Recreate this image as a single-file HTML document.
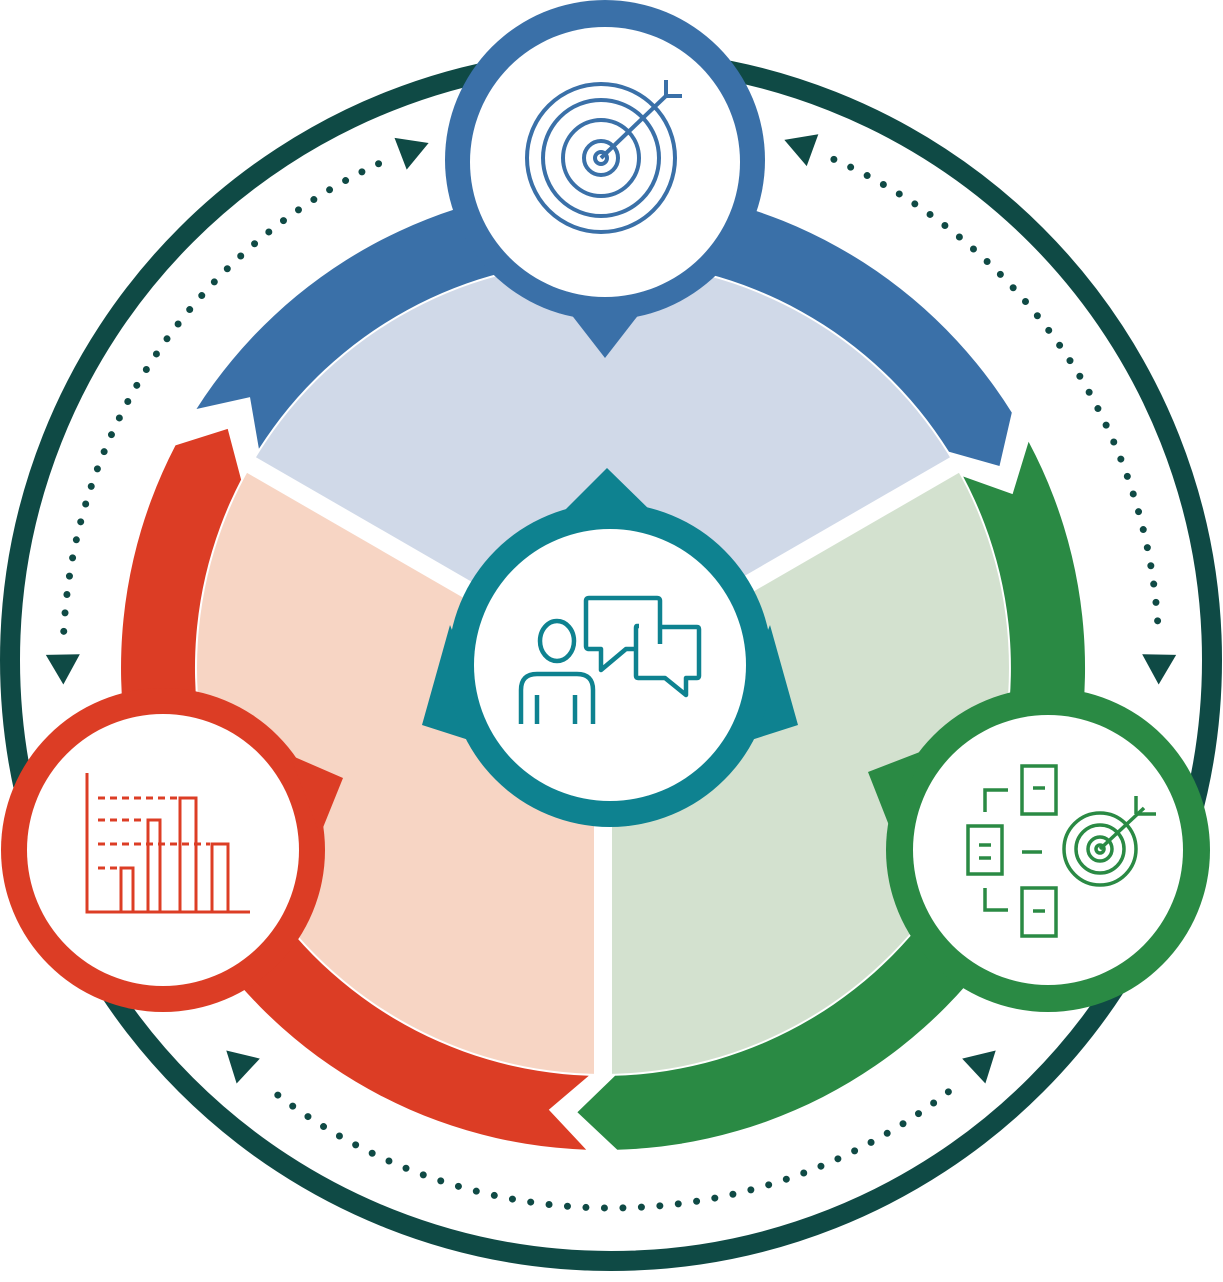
<!DOCTYPE html>
<html><head><meta charset="utf-8"><style>html,body{margin:0;padding:0;background:#fff}svg{display:block}</style></head>
<body>
<svg id="s" width="1223" height="1282" viewBox="0 0 1223 1282" xmlns="http://www.w3.org/2000/svg">
<circle cx="611" cy="660" r="601" fill="none" stroke="#0f4a45" stroke-width="20"/>
<g id="g"></g>
<!-- top node -->
<g>
<circle cx="605" cy="160" r="160" fill="#3a70a8"/>
<polygon points="560,300 650,300 605,358" fill="#3a70a8"/>
<circle cx="605" cy="162" r="135" fill="#fff"/>
<g fill="none" stroke="#3a70a8" stroke-width="4">
<circle cx="601" cy="158" r="74"/><circle cx="601" cy="158" r="58"/><circle cx="601" cy="158" r="38"/><circle cx="601" cy="158" r="17"/><circle cx="601" cy="158" r="6"/>
<line x1="601" y1="158" x2="668" y2="94"/><line x1="666" y1="96" x2="666" y2="80"/><line x1="666" y1="96" x2="682" y2="96"/>
</g></g>
<!-- left node -->
<g>
<circle cx="163" cy="850" r="162" fill="#dc3d25"/>
<polygon points="290,755 343,778 320,835" fill="#dc3d25"/>
<circle cx="163" cy="850" r="136" fill="#fff"/>
<g fill="none" stroke="#dc3d25" stroke-width="3">
<polyline points="87,773 87,912 250,912"/>
<rect x="121" y="868" width="12" height="44"/><rect x="148" y="820" width="12" height="92"/><rect x="180" y="798" width="16" height="114"/><rect x="212" y="844" width="16" height="68"/>
<g stroke-dasharray="7 5"><line x1="98" y1="798" x2="178" y2="798"/><line x1="98" y1="820" x2="146" y2="820"/><line x1="98" y1="844" x2="210" y2="844"/><line x1="98" y1="868" x2="119" y2="868"/></g>
</g></g>
<!-- right node -->
<g>
<circle cx="1048" cy="850" r="162" fill="#2a8a44"/>
<polygon points="868,772 925,750 890,828" fill="#2a8a44"/>
<circle cx="1048" cy="850" r="135" fill="#fff"/>
<g fill="none" stroke="#2a8a44" stroke-width="3.5">
<rect x="1022" y="766" width="34" height="48"/><rect x="968" y="826" width="34" height="48"/><rect x="1022" y="888" width="34" height="48"/>
<line x1="1033" y1="788" x2="1045" y2="788"/><line x1="979" y1="845" x2="991" y2="845"/><line x1="979" y1="858" x2="991" y2="858"/><line x1="1033" y1="911" x2="1045" y2="911"/>
<polyline points="985,812 985,790 1008,790"/><polyline points="985,888 985,910 1008,910"/><line x1="1022" y1="852" x2="1042" y2="852"/>
<circle cx="1100" cy="849" r="36"/><circle cx="1100" cy="849" r="24"/><circle cx="1100" cy="849" r="12"/><circle cx="1100" cy="849" r="4"/>
<line x1="1100" y1="849" x2="1144" y2="808"/><line x1="1136" y1="796" x2="1136" y2="814"/><line x1="1136" y1="814" x2="1156" y2="814"/>
</g></g>
<!-- center -->
<g>
<polygon points="607,468 560,515 655,515" fill="#0e8290"/>
<polygon points="422,725 450,625 500,750" fill="#0e8290"/>
<polygon points="798,725 770,625 720,750" fill="#0e8290"/>
<circle cx="610" cy="665" r="162" fill="#0e8290"/>
<circle cx="610" cy="665" r="136" fill="#fff"/>
<g fill="none" stroke="#0e8290" stroke-width="4.5" stroke-linejoin="round">
<ellipse cx="557" cy="641" rx="17" ry="20"/>
<path d="M521,724 V690 Q521,674 537,674 H577 Q593,674 593,690 V724"/>
<line x1="537" y1="695" x2="537" y2="724"/><line x1="575" y1="695" x2="575" y2="724"/>
<path d="M639,626 H637 Q636,626 636,628 V676 Q636,678 638,678 H665 L686,695 V678 H697 Q699,678 699,676 V629 Q699,627 697,627 H662"/>
<path d="M660,644 V601 Q660,598 657,598 H589 Q586,598 586,601 V646 Q586,649 589,649 H601 V670 L626,649 H636"/>
</g></g>
</svg>
<script>
const NS="http://www.w3.org/2000/svg",g=document.getElementById('g');
const cx=603,cy=668,R=482,r=408,rm=445;
const P=(rad,a)=>{a*=Math.PI/180;return [(cx+rad*Math.cos(a)).toFixed(1),(cy+rad*Math.sin(a)).toFixed(1)]};
function add(tag,attrs){const e=document.createElementNS(NS,tag);for(const k in attrs)e.setAttribute(k,attrs[k]);g.appendChild(e);return e;}
function sector(a1,a2,fill){const p1=P(406,a1),p2=P(406,a2);add('path',{d:`M${cx},${cy} L${p1} A406,406 0 0 1 ${p2} Z`,fill});}
sector(-150,-30,'#d0d9e8');sector(-30,90,'#d3e1cf');sector(90,210,'#f7d5c4');
[-150,-30,90].forEach(a=>{const p=P(420,a);add('line',{x1:cx,y1:cy,x2:p[0],y2:p[1],stroke:'#fff','stroke-width':18});});
function seg(a1,a2,fill){const d=5;
 const path=`M${P(R,a1)} A${R},${R} 0 0 1 ${P(R,a2)} L${P(rm,a2+d)} L${P(r,a2)} A${r},${r} 0 0 0 ${P(r,a1)} L${P(rm,a1+d)} Z`;
 add('path',{d:path,fill});}
seg(-28,88.3,'#2a8a44');seg(92,207.5,'#dc3d25');seg(212.5,328,'#3a70a8');
const dc=[611,660],DR=548;
const Q=(a)=>{a*=Math.PI/180;return [dc[0]+DR*Math.cos(a),dc[1]+DR*Math.sin(a)]};
function tri(a,dir){
 const p=Q(a),t=a*Math.PI/180;const tx=-Math.sin(t)*dir,ty=Math.cos(t)*dir,nx=Math.cos(t),ny=Math.sin(t);
 const L=30,W=17;const tip=[p[0]+tx*L*0.5,p[1]+ty*L*0.5],b=[p[0]-tx*L*0.5,p[1]-ty*L*0.5];
 add('polygon',{points:`${tip} ${b[0]+nx*W},${b[1]+ny*W} ${b[0]-nx*W},${b[1]-ny*W}`,fill:'#0f4a45'});}
function darc(a1,a2){const p1=Q(a1),p2=Q(a2);
 add('path',{d:`M${p1} A${DR},${DR} 0 0 1 ${p2}`,fill:'none',stroke:'#0f4a45','stroke-width':7,'stroke-linecap':'round','stroke-dasharray':'0 18.5'});}
darc(183,245);tri(179,-1);tri(249,1);
darc(-66,-3);tri(-70,-1);tri(1,1);
darc(52,128);tri(47,-1);tri(133,1);
</script>
</body></html>
